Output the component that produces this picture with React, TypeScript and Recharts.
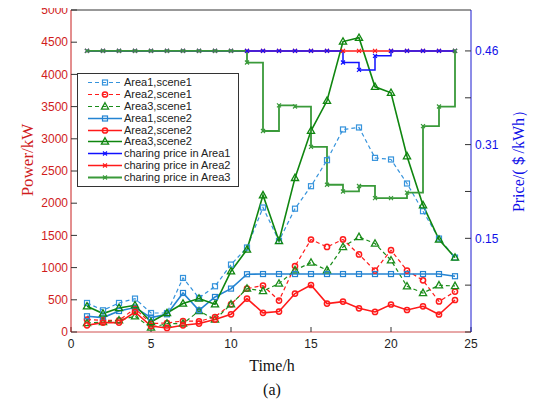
import React from 'react';
import { LineChart, Line, XAxis, YAxis, Legend, ReferenceLine } from 'recharts';

// hours of the day
const hours = [1, 2, 3, 4, 5, 6, 7, 8, 9, 10, 11, 12, 13, 14, 15, 16, 17, 18, 19, 20, 21, 22, 23, 24];

// charging power, kW
const area1Scene1 = [451, 337, 451, 519, 295, 295, 839, 528, 710, 1047, 1312, 1933, 1414, 1915, 2264, 2668, 3145, 3176, 2704, 2679, 2306, 1876, 1451, 1156];
const area2Scene1 = [193, 182, 182, 364, 131, 140, 171, 166, 233, 430, 674, 721, 488, 1024, 1436, 1321, 1437, 1204, 954, 1270, 954, 803, 474, 628];
const area3Scene1 = [140, 155, 182, 244, 68, 131, 131, 326, 193, 430, 674, 637, 752, 959, 1078, 959, 1321, 1476, 1374, 1114, 710, 606, 726, 715];
const area1Scene2 = [244, 224, 326, 379, 224, 275, 606, 337, 544, 674, 897, 900, 900, 900, 900, 900, 900, 900, 900, 900, 900, 900, 900, 866];
const area2Scene2 = [104, 146, 146, 311, 93, 62, 104, 131, 193, 275, 519, 298, 317, 597, 730, 441, 472, 368, 311, 427, 342, 399, 272, 497];
const area3Scene2 = [399, 286, 373, 415, 155, 295, 441, 519, 430, 943, 1280, 2124, 1414, 2393, 3124, 3590, 4510, 4569, 3807, 3714, 2730, 1969, 1436, 1156];

// charging price, $/kWh
const priceArea1 = [0.46, 0.46, 0.46, 0.46, 0.46, 0.46, 0.46, 0.46, 0.46, 0.46, 0.46, 0.46, 0.46, 0.46, 0.46, 0.46, 0.441, 0.429, 0.452, 0.46, 0.46, 0.46, 0.46, 0.46];
const priceArea2 = [0.46, 0.46, 0.46, 0.46, 0.46, 0.46, 0.46, 0.46, 0.46, 0.46, 0.46, 0.46, 0.46, 0.46, 0.46, 0.46, 0.46, 0.46, 0.46, 0.46, 0.46, 0.46, 0.46, 0.46];
const priceArea3 = [0.46, 0.46, 0.46, 0.46, 0.46, 0.46, 0.46, 0.46, 0.46, 0.46, 0.441, 0.329, 0.371, 0.369, 0.303, 0.241, 0.23, 0.239, 0.219, 0.219, 0.228, 0.337, 0.369, 0.46];

const xTicks = [0, 5, 10, 15, 20, 25];
const leftTicks = [0, 500, 1000, 1500, 2000, 2500, 3000, 3500, 4000, 4500, 5000];
const rightTicks = [0, 0.0767, 0.1533, 0.23, 0.3067, 0.3833, 0.46];
const rightTickLabels = ['', '', '0.15', '', '0.31', '', '0.46'];

const data = hours.map((h, i) => ({
    hour: h,
    a1s1: area1Scene1[i],
    a2s1: area2Scene1[i],
    a3s1: area3Scene1[i],
    a1s2: area1Scene2[i],
    a2s2: area2Scene2[i],
    a3s2: area3Scene2[i],
    p1: priceArea1[i],
    p2: priceArea2[i],
    p3: priceArea3[i],
}));

const SANS = "'Liberation Sans', Arial, sans-serif";
const SERIF = "'Liberation Serif', 'Times New Roman', serif";

type Shape = 'square' | 'circle' | 'triangle' | 'cross';

const Marker = ({ shape, cx, cy, color }: { shape: Shape; cx: number; cy: number; color: string }) => {
    if (shape === 'square') {
        return <rect x={cx - 2.5} y={cy - 2.5} width={5} height={5} fill="none" stroke={color} strokeWidth={1.2} />;
    }
    if (shape === 'circle') {
        return <circle cx={cx} cy={cy} r={2.6} fill="none" stroke={color} strokeWidth={1.5} />;
    }
    if (shape === 'triangle') {
        return (
            <path
                d={`M${cx},${cy - 3.8} L${cx + 3.6},${cy + 2.6} L${cx - 3.6},${cy + 2.6} Z`}
                fill="none"
                stroke={color}
                strokeWidth={1.3}
            />
        );
    }
    return (
        <path
            d={`M${cx - 2},${cy - 2} L${cx + 2},${cy + 2} M${cx - 2},${cy + 2} L${cx + 2},${cy - 2}`}
            stroke={color}
            strokeWidth={1.2}
        />
    );
};

const dotFor = (shape: Shape, color: string) => (props: any) => {
    const { cx, cy, index } = props;
    if (cx == null || cy == null) return <g key={index} />;
    return (
        <g key={index}>
            <Marker shape={shape} cx={cx} cy={cy} color={color} />
        </g>
    );
};

const series = [
    { key: 'a1s1', name: 'Area1,scene1', color: '#3593dc', shape: 'square' as Shape, dash: '4 3', width: 1.2, axis: 'left', step: false },
    { key: 'a2s1', name: 'Area2,scene1', color: '#ff1a1a', shape: 'circle' as Shape, dash: '4 3', width: 1.2, axis: 'left', step: false },
    { key: 'a3s1', name: 'Area3,scene1', color: '#1a8c1a', shape: 'triangle' as Shape, dash: '4 3', width: 1.2, axis: 'left', step: false },
    { key: 'a1s2', name: 'Area1,scene2', color: '#2484d2', shape: 'square' as Shape, dash: undefined, width: 1.6, axis: 'left', step: false },
    { key: 'a2s2', name: 'Area2,scene2', color: '#ff1a1a', shape: 'circle' as Shape, dash: undefined, width: 1.6, axis: 'left', step: false },
    { key: 'a3s2', name: 'Area3,scene2', color: '#0f860f', shape: 'triangle' as Shape, dash: undefined, width: 1.6, axis: 'left', step: false },
    { key: 'p1', name: 'charing price in Area1', color: '#1010ff', shape: 'cross' as Shape, dash: undefined, width: 1.5, axis: 'right', step: true },
    { key: 'p2', name: 'charing price in Area2', color: '#ff1a1a', shape: 'cross' as Shape, dash: undefined, width: 1.5, axis: 'right', step: true },
    { key: 'p3', name: 'charing price in Area3', color: '#3a9a3a', shape: 'cross' as Shape, dash: undefined, width: 1.8, axis: 'right', step: true },
];

// drawing order: red price under blue price, green price last
const drawOrder = ['a1s1', 'a2s1', 'a3s1', 'a1s2', 'a2s2', 'a3s2', 'p2', 'p1', 'p3'];

const renderLegend = () => (
    <div
        style={{
            border: '1px solid #333',
            background: '#fff',
            width: 160,
            padding: '3px 0',
            fontFamily: SANS,
            fontSize: 11,
            color: '#222',
        }}
    >
        {series.map((s) => (
            <div key={s.key} style={{ height: 11.8, display: 'flex', alignItems: 'center', whiteSpace: 'nowrap' }}>
                <svg width={46} height={11} style={{ flex: 'none' }}>
                    <line
                        x1={10}
                        x2={44}
                        y1={5.5}
                        y2={5.5}
                        stroke={s.color}
                        strokeWidth={s.width}
                        strokeDasharray={s.dash}
                    />
                    <Marker shape={s.shape} cx={27} cy={5.5} color={s.color} />
                </svg>
                <span style={{ lineHeight: '11px' }}>{s.name}</span>
            </div>
        ))}
    </div>
);

export default function App() {
    return (
        <div style={{ position: 'relative', width: 539, height: 406, margin: '-8px 0 0 -8px', background: '#fff' }}>
            <LineChart width={539} height={406} data={data} margin={{ top: 10, right: 8, left: 11, bottom: 44 }}>
                <XAxis
                    dataKey="hour"
                    type="number"
                    domain={[0, 25]}
                    ticks={xTicks}
                    interval={0}
                    height={30}
                    axisLine={{ stroke: '#d05050' }}
                    tickLine={{ stroke: '#333' }}
                    tickSize={-5}
                    tickMargin={12}
                    tick={{ fill: '#222', fontSize: 12, fontFamily: SANS }}
                    label={{
                        content: () => (
                            <g>
                                <text x={272} y={371} textAnchor="middle" fontFamily={SERIF} fontSize={16} fill="#111">
                                    Time/h
                                </text>
                                <text x={272} y={395} textAnchor="middle" fontFamily={SERIF} fontSize={16} fill="#111">
                                    (a)
                                </text>
                            </g>
                        ),
                    }}
                />
                <YAxis
                    yAxisId="left"
                    orientation="left"
                    domain={[0, 5000]}
                    ticks={leftTicks}
                    interval={0}
                    width={60}
                    axisLine={{ stroke: '#c81e1e' }}
                    tickLine={{ stroke: '#333' }}
                    tickSize={-6}
                    tickMargin={9}
                    tick={{ fill: '#d01c1c', fontSize: 12, fontFamily: SANS }}
                    label={{
                        content: () => (
                            <text
                                x={27}
                                y={160}
                                transform="rotate(-90 27 160)"
                                textAnchor="middle"
                                dominantBaseline="central"
                                fontFamily={SERIF}
                                fontSize={17}
                                fill="#d01c1c"
                            >
                                Power/kW
                            </text>
                        ),
                    }}
                />
                <YAxis
                    yAxisId="right"
                    orientation="right"
                    domain={[0, 0.527]}
                    ticks={rightTicks}
                    interval={0}
                    width={60}
                    axisLine={{ stroke: '#1a1ad0' }}
                    tickLine={{ stroke: '#333' }}
                    tickSize={-6}
                    tickMargin={10}
                    tickFormatter={(v: number, i: number) => rightTickLabels[i]}
                    tick={{ fill: '#1010e8', fontSize: 12, fontFamily: SANS }}
                    label={{
                        content: () => (
                            <text
                                x={518}
                                y={157}
                                transform="rotate(-90 518 157)"
                                textAnchor="middle"
                                dominantBaseline="central"
                                fontFamily={SERIF}
                                fontSize={16}
                                fill="#1010e8"
                            >
                                Price/(＄/kWh）
                            </text>
                        ),
                    }}
                />
                <ReferenceLine yAxisId="left" y={5000} stroke="#333" strokeWidth={1} />
                {drawOrder.map((k) => {
                    const s = series.find((x) => x.key === k)!;
                    return (
                        <Line
                            key={s.key}
                            yAxisId={s.axis}
                            dataKey={s.key}
                            name={s.name}
                            type={s.step ? 'stepAfter' : 'linear'}
                            stroke={s.color}
                            strokeWidth={s.width}
                            strokeDasharray={s.dash}
                            dot={dotFor(s.shape, s.color)}
                            activeDot={false}
                            isAnimationActive={false}
                        />
                    );
                })}
                <Legend
                    layout="vertical"
                    align="center"
                    verticalAlign="middle"
                    content={renderLegend}
                    wrapperStyle={{ position: 'absolute', left: 77, top: 73, width: 162, height: 'auto' }}
                />
            </LineChart>
        </div>
    );
}
